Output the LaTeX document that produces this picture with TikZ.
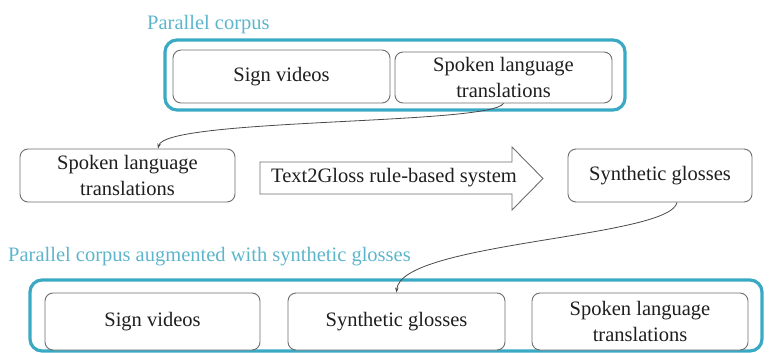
\documentclass[tikz,border=0pt]{standalone}
\usepackage{fontspec}
\setmainfont{Liberation Serif}
\usetikzlibrary{arrows.meta}
\definecolor{frameteal}{HTML}{3AA9C4}
\definecolor{labelteal}{HTML}{5DB5CB}
\definecolor{boxgray}{HTML}{6E6E6E}
\definecolor{linkgray}{HTML}{4A4A4A}
\definecolor{textdark}{HTML}{1E1E1E}
\tikzset{
  inbox/.style={draw=boxgray, line width=0.9pt, rounded corners=8pt, fill=white, text=textdark,
    align=center, inner sep=0pt, font=\fontsize{20.5}{25.5}\selectfont},
  outbox/.style={draw=frameteal, line width=3.2pt, rounded corners=12pt},
  grouplabel/.style={text=labelteal, anchor=west, inner sep=0pt, font=\fontsize{20.5}{24}\selectfont},
  link/.style={draw=linkgray, line width=0.8pt, -{Stealth[length=5pt,width=3.5pt]}},
  bigarrow/.style={draw=boxgray, line width=0.9pt, fill=white}
}
\begin{document}
\begin{tikzpicture}[x=1pt,y=-1pt]
\useasboundingbox (0,0) rectangle (773,353);
% top group
\draw[outbox] (165,40) rectangle (625,110);
\node[grouplabel] (lblTop) at (147,25) {Parallel corpus};
\node[inbox, minimum width=217pt, minimum height=53pt] (tsv) at (281.5,76.5) {Sign videos};
\node[inbox, minimum width=217pt, minimum height=51pt] (tsl) at (503.5,77.5) {Spoken language\\translations};
% middle row
\node[inbox, minimum width=215pt, minimum height=53pt] (msl) at (127.5,175.5) {Spoken language\\translations};
\draw[bigarrow] (260,162) -- (512,162) -- (512,147) -- (543,178.5) -- (512,210) -- (512,194) -- (260,194) -- cycle;
\node[inner sep=0pt, text=textdark, font=\fontsize{20.5}{24}\selectfont] (t2g) at (394,178) {Text2Gloss rule-based system};
\node[inbox, minimum width=184pt, minimum height=53pt] (msg) at (660,175.5) {Synthetic glosses};
% bottom group
\draw[outbox] (30,280) rectangle (762,351);
\node[grouplabel] (lblBot) at (8,257) {Parallel corpus augmented with synthetic glosses};
\node[inbox, minimum width=215pt, minimum height=57pt] (bsv) at (152.5,321.5) {Sign videos};
\node[inbox, minimum width=217pt, minimum height=57pt] (bsg) at (396.5,321.5) {Synthetic glosses};
\node[inbox, minimum width=216pt, minimum height=57pt] (bsl) at (640,321.5) {Spoken language\\translations};
% connectors
\draw[link] (tsl.south) .. controls (490,125) and (165,118) .. ([xshift=30.5pt]msl.north);
\draw[link] ([xshift=17pt]msg.south) .. controls (670,238) and (400,242) .. (bsg.north);
\end{tikzpicture}
\end{document}
